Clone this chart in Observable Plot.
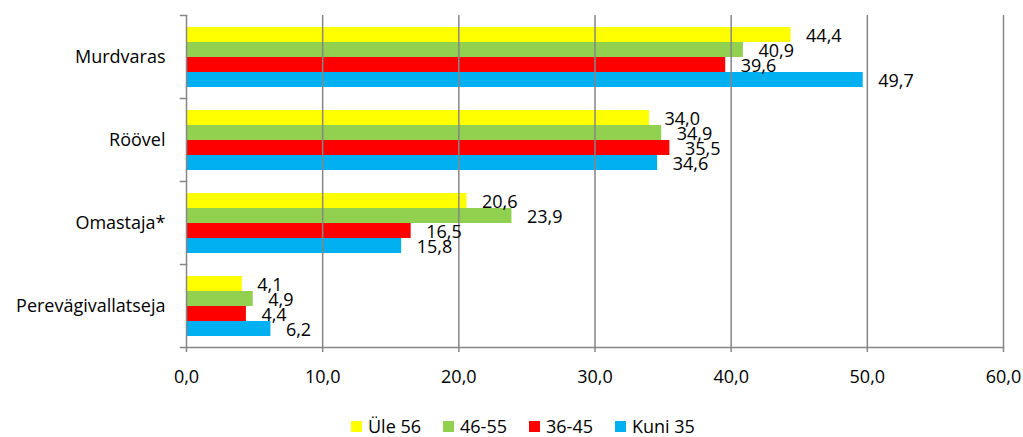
<!DOCTYPE html>
<html>
<head>
<meta charset="utf-8">
<script src="https://cdn.jsdelivr.net/npm/d3@7"></script>
<script src="https://cdn.jsdelivr.net/npm/@observablehq/plot@0.6"></script>
<style>
  body { margin: 0; background: #fff; font-family: "Open Sans", sans-serif; }
  #chart svg { display: block; }
  #legend { position: relative; height: 37px; width: 1023px; font-size: 18px; line-height: 20px; color: #000; overflow: visible; }
  .item { position: absolute; top: 16px; display: flex; align-items: center; height: 20px; white-space: nowrap; }
  .sw { width: 11px; height: 11px; margin-right: 6px; }
</style>
</head>
<body>
<div id="chart"></div>
<div id="legend"></div>
<script>
const categories = ["Murdvaras", "Röövel", "Omastaja*", "Perevägivallatseja"];
const seriesNames = ["Üle 56", "46-55", "36-45", "Kuni 35"];
const seriesColors = ["#FFFF00", "#92D050", "#FF0000", "#00B0F0"];
const ule56 = [44.4, 34.0, 20.6, 4.1];
const s46_55 = [40.9, 34.9, 23.9, 4.9];
const s36_45 = [39.6, 35.5, 16.5, 4.4];
const kuni35 = [49.7, 34.6, 15.8, 6.2];
const xTicks = [0, 10, 20, 30, 40, 50, 60];

const seriesValues = [ule56, s46_55, s36_45, kuni35];
const data = [];
categories.forEach((c, i) => {
  seriesNames.forEach((s, j) => data.push({cat: c, series: s, value: seriesValues[j][i]}));
});
const fmt = d => d.toFixed(1).replace(".", ",");
const grey = "#868686";
const W = 1023, ML = 186, MR = 20;

const plot = Plot.plot({
  width: W,
  height: 400,
  marginLeft: ML,
  marginRight: MR,
  marginTop: 14,
  marginBottom: 52,
  style: {fontFamily: "Open Sans, sans-serif", fontSize: "18px", color: "#000", background: "#fff"},
  x: {domain: [0, 60], axis: null},
  y: {domain: seriesNames, paddingInner: 0, paddingOuter: 0.74, axis: null},
  fy: {domain: categories, padding: 0, axis: null},
  color: {domain: seriesNames, range: seriesColors},
  marks: [
    Plot.barX(data, {x: "value", y: "series", fy: "cat", fill: "series", insetTop: 0, insetBottom: 0}),
    Plot.ruleX(xTicks, {stroke: grey, strokeWidth: 1.5}),
    Plot.frame({anchor: "top", stroke: grey, strokeWidth: 1.5, insetLeft: -6, insetRight: W - ML - MR}),
    Plot.frame({anchor: "bottom", stroke: grey, strokeWidth: 1.5, facet: "super", insetLeft: -6}),
    Plot.text(data, {x: "value", y: "series", fy: "cat", text: d => fmt(d.value), textAnchor: "start", dx: 15, dy: 1, fontSize: 18, fill: "#000"}),
    Plot.axisFy({anchor: "left", tickSize: 0, tickPadding: 21, label: null, fontSize: 18}),
    Plot.axisX({ticks: xTicks, tickFormat: fmt, tickSize: 5, tickPadding: 18, stroke: grey, strokeWidth: 1.5, label: null, fontSize: 18, fill: "#000"})
  ]
});
document.getElementById("chart").appendChild(plot);

const legend = document.getElementById("legend");
const lefts = [351, 443, 529, 615];
seriesNames.forEach((s, j) => {
  const it = document.createElement("div");
  it.className = "item";
  it.style.left = lefts[j] + "px";
  const sw = document.createElement("div");
  sw.className = "sw";
  sw.style.background = seriesColors[j];
  it.appendChild(sw);
  it.appendChild(document.createTextNode(s));
  legend.appendChild(it);
});
</script>
</body>
</html>
